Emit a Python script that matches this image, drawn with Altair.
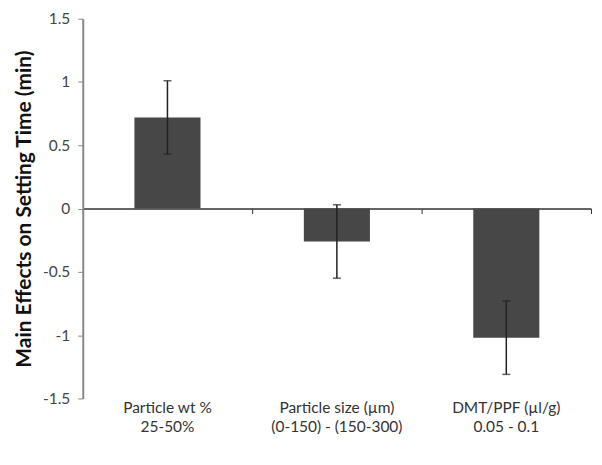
import altair as alt
import pandas as pd

line1 = ["Particle wt %", "Particle size (µm)", "DMT/PPF (µl/g)"]
line2 = ["25-50%", "(0-150) - (150-300)", "0.05 - 0.1"]
effects = [0.72, -0.26, -1.02]
errors = [0.29, 0.29, 0.29]

df = pd.DataFrame({
    "cat": [a + "\n" + b for a, b in zip(line1, line2)],
    "effect": effects,
    "err": errors,
})
df["lo"] = df["effect"] - df["err"]
df["hi"] = df["effect"] + df["err"]

W, H = 510, 381
FONT = "Lato"

xscale = alt.Scale(paddingInner=0, paddingOuter=0)
yscale = alt.Scale(domain=[-1.5, 1.5], nice=False)

bars = alt.Chart(df).mark_bar(color="#474747", width=alt.RelativeBandSize(0.39)).encode(
    x=alt.X("cat:N", sort=None, scale=xscale, title=None,
            axis=alt.Axis(orient="bottom", domain=False, ticks=False, labelAngle=0,
                          labelExpr="split(datum.label, '\\n')", labelFont=FONT,
                          labelFontSize=15.5, labelColor="#333", labelPadding=2,
                          labelLineHeight=19)),
    y=alt.Y("effect:Q", scale=yscale, title="Main Effects on Setting Time (min)",
            axis=alt.Axis(values=[-1.5, -1, -0.5, 0, 0.5, 1, 1.5], grid=False,
                          labelExpr="toString(datum.value)", labelFont=FONT,
                          labelFontSize=15.5, labelColor="#444", domainColor="#888",
                          domainWidth=2, tickColor="#888", tickSize=5,
                          titleFont=FONT, titleFontSize=21, titleFontWeight="bold",
                          titleColor="#111", titlePadding=8, labelPadding=8)),
)

err_line = alt.Chart(df).mark_rule(color="#222", strokeWidth=1.5).encode(
    x=alt.X("cat:N", sort=None, scale=xscale, title=None,
            axis=alt.Axis(orient="bottom", offset=-H / 2, labels=False,
                          domainColor="#333", domainWidth=1.5, tickColor="#333",
                          tickSize=5, tickBand="extent", title=None)),
    y=alt.Y("lo:Q", scale=yscale),
    y2="hi:Q",
)
cap_lo = alt.Chart(df).mark_tick(color="#222", size=8, thickness=1.5).encode(
    x=alt.X("cat:N", sort=None, scale=xscale, axis=None),
    y=alt.Y("lo:Q", scale=yscale),
)
cap_hi = alt.Chart(df).mark_tick(color="#222", size=8, thickness=1.5).encode(
    x=alt.X("cat:N", sort=None, scale=xscale, axis=None),
    y=alt.Y("hi:Q", scale=yscale),
)

chart = alt.layer(bars, err_line, cap_lo, cap_hi).resolve_axis(x="independent").properties(
    width=W, height=H, autosize=alt.AutoSizeParams(type="none"),
    padding={"left": 75, "top": 10, "right": 3, "bottom": 55}
).configure_view(stroke=None)

chart.save("out.html", embed_options={"renderer": "svg", "actions": False})
